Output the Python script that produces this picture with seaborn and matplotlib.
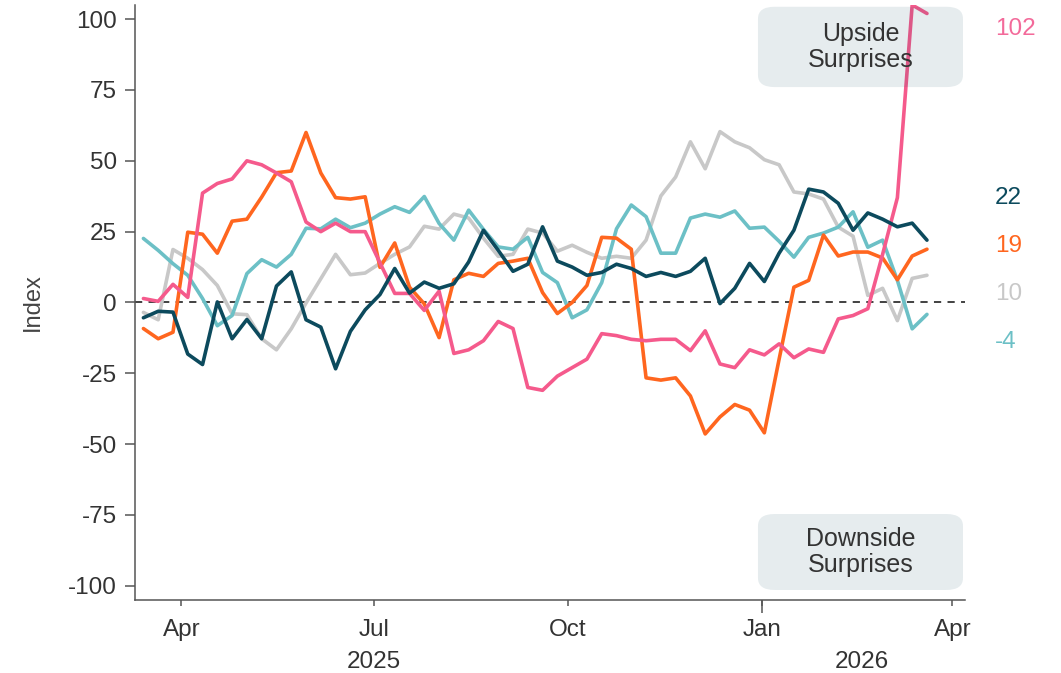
import numpy as np
import pandas as pd
import matplotlib
matplotlib.use("Agg")
import matplotlib.pyplot as plt
import matplotlib.dates as mdates
import matplotlib.transforms as mtransforms
from matplotlib.patches import FancyBboxPatch
import seaborn as sns

# ---------------- data ----------------
start_date = "2025-03-14"   # weekly observations

gray_vals = [-3.5, -6.1, 18.7, 15.6, 11.6, 6, -4, -4.3, -12.8, -16.7, -9.3, -0.2, 8.4, 17,
             9.8, 10.4, 13.8, 17, 19.6, 26.9, 25.9, 31.2, 29.8, 22.7, 16.3, 17, 25.9, 24.5,
             18.1, 20.2, 17.7, 15.6, 16.3, 15.6, 22, 37.6, 44.3, 56.7, 47.2, 60.3, 56.7, 54.6,
             50.4, 48.6, 39, 38.3, 36.5, 26.6, 23.4, 2.5, 5, -6.4, 8.5, 9.6]
teal_vals = [22.6, 18.4, 13.7, 9.6, 1.4, -8.2, -4.6, 10.2, 15.1, 12.5, 17, 26.2, 26, 29.4,
             26.4, 28, 31.2, 33.8, 31.8, 37.4, 27.9, 22, 32.6, 25.8, 19.6, 18.8, 23, 10.6,
             7, -5.4, -2.6, 7, 26, 34.4, 30.3, 17.4, 17.4, 29.8, 31.2, 30.1, 32.3, 26.2,
             26.6, 21.6, 16, 23, 24.5, 26.6, 32, 19.5, 22, 7.8, -9.3, -4.2]
orange_vals = [-9.2, -12.8, -10.5, 24.8, 24.1, 17.4, 28.7, 29.4, 37.2, 45.8, 46.4, 60, 45.7,
               37, 36.5, 37.3, 12.4, 21, 5.4, -0.5, -12.4, 8, 10.3, 9.2, 13.8, 14.6, 15.6,
               3.5, -3.9, 0, 6, 23, 22.7, 18.8, -26.6, -27.4, -26.6, -33, -46.4, -40.4, -36,
               -38, -46, -20, 5.4, 7.8, 23.8, 16.4, 17.8, 17.8, 15.7, 8, 16.4, 18.8]
pink_vals = [1.4, 0.4, 6.4, 1.8, 38.6, 42, 43.6, 50, 48.6, 45.7, 42.6, 28.4, 25, 28, 25, 25,
             14, 3.2, 3.2, -2.8, 4, -18, -16.7, -13.5, -6.7, -9.2, -30, -31, -26, -23, -20,
             -11, -11.7, -13, -13.5, -13, -13, -17, -10, -21.7, -23, -16.7, -18.5, -14.6,
             -19.5, -16.4, -17.6, -5.8, -4.6, -2.2, 17, 37, 105, 102]
navy_vals = [-5.4, -3.1, -3.4, -18.2, -21.9, 0.2, -12.8, -6, -12.8, 5.8, 10.8, -6.1, -8.7,
             -23.4, -10.2, -2.6, 2.8, 12, 3.3, 7.2, 5, 6.6, 14.3, 25.5, 18.4, 11, 13.5, 26.7,
             14.6, 12.5, 9.6, 10.6, 13.5, 12, 9.2, 10.6, 9.2, 11, 15.6, -0.4, 5, 13.8, 7.4,
             17.4, 25.5, 40, 39, 35, 25.5, 31.6, 29.4, 26.7, 28, 22]

series_names = ["gray", "teal", "orange", "pink", "navy"]
series_colors = ["#C8C8C8", "#6CC0C6", "#FF661F", "#F55A8C", "#0C4A5D"]
label_colors = ["#C8C8C8", "#6CC0C6", "#FF661F", "#F36A9A", "#0C4A5D"]
y_ticks = [-100, -75, -50, -25, 0, 25, 50, 75, 100]
month_labels = ["Apr", "Jul", "Oct", "Jan", "Apr"]
year_labels = ["2025", "2026"]
upside_text = "Upside\nSurprises"
downside_text = "Downside\nSurprises"
y_label = "Index"

# ---------------- build frame ----------------
values = [gray_vals, teal_vals, orange_vals, pink_vals, navy_vals]
dates = pd.date_range(start_date, periods=len(gray_vals), freq="7D")
df = pd.concat([pd.DataFrame({"date": dates, "value": v, "series": n})
                for n, v in zip(series_names, values)], ignore_index=True)

sns.set_theme(style="white")
plt.rcParams["font.family"] = ["Liberation Sans", "DejaVu Sans"]

FS = 17.5
fig = plt.figure(figsize=(10.61, 6.73), dpi=100)
ax = fig.add_axes([0.1272, 0.1085, 0.7823, 0.8841])

for z, (name, col) in enumerate(zip(series_names, series_colors)):
    sns.lineplot(data=df[df.series == name], x="date", y="value", color=col,
                 linewidth=2.6, ax=ax, zorder=3 + z, legend=False)

ax.axhline(0, color="#333333", linewidth=1.3, linestyle=(0, (4, 3.5)), zorder=2)

ax.set_xlim(pd.Timestamp("2025-03-10"), pd.Timestamp("2026-04-07"))
ax.set_ylim(-105, 105)
ax.set_yticks(y_ticks)
ax.set_yticklabels([str(t) for t in y_ticks])
ax.set_ylabel(y_label, fontsize=17, color="#444444")
ax.yaxis.set_label_coords(-0.110, 0.5)
ax.set_xlabel("")

# x ticks: quarter months labelled, Jan gets a longer tick
qdates = [pd.Timestamp(d) for d in ["2025-04-01", "2025-07-01", "2025-10-01",
                                     "2026-01-01", "2026-04-01"]]
ax.set_xticks(qdates)
ax.set_xticklabels(month_labels)
ax.xaxis.set_minor_locator(mdates.MonthLocator(bymonth=1))
ax.xaxis.remove_overlapping_locs = False
ax.tick_params(axis="x", which="major", length=4, width=1.1, color="#555555",
               labelsize=FS, labelcolor="#333333", pad=10, direction="out", bottom=True)
ax.tick_params(axis="x", which="minor", length=9, width=1.1, color="#555555",
               direction="out", bottom=True)
ax.tick_params(axis="y", length=7, width=1.1, color="#555555", labelsize=FS,
               labelcolor="#333333", pad=6, direction="out", left=True)

for s in ["top", "right"]:
    ax.spines[s].set_visible(False)
for s in ["left", "bottom"]:
    ax.spines[s].set_color("#555555")
    ax.spines[s].set_linewidth(1.1)

# year labels
trans_xa = mtransforms.blended_transform_factory(ax.transData, ax.transAxes)
ax.text(pd.Timestamp("2025-07-01"), -0.104, year_labels[0], transform=trans_xa,
        ha="center", va="center", fontsize=FS, color="#333333")
ax.text(pd.Timestamp("2026-02-17"), -0.104, year_labels[1], transform=trans_xa,
        ha="center", va="center", fontsize=FS, color="#333333")

# boxes
box_kw = dict(boxstyle="round,pad=0,rounding_size=0.02", transform=ax.transAxes,
              facecolor="#0C4A5D", alpha=0.1, edgecolor="none", zorder=20, clip_on=False)
ax.add_patch(FancyBboxPatch((0.7506, 0.862), 0.247, 0.135, **box_kw))
ax.add_patch(FancyBboxPatch((0.7506, 0.0168), 0.247, 0.1277, **box_kw))
ax.text(0.874, 0.929, upside_text, transform=ax.transAxes, ha="center", va="center",
        fontsize=18, color="#333333", zorder=21, linespacing=1.12)
ax.text(0.874, 0.0806, downside_text, transform=ax.transAxes, ha="center", va="center",
        fontsize=18, color="#333333", zorder=21, linespacing=1.12)

# end labels with de-overlap (keeps cluster mean)
last = [v[-1] for v in values]
gap = 17.0
order = sorted(range(len(last)), key=lambda i: -last[i])
clusters = [[i] for i in order]

def positions(cl):
    c = np.mean([last[i] for i in cl])
    n = len(cl)
    return [c + gap * ((n - 1) / 2 - k) for k in range(n)]

merged = True
while merged:
    merged = False
    for k in range(len(clusters) - 1):
        if positions(clusters[k])[-1] - positions(clusters[k + 1])[0] < gap:
            clusters[k] = clusters[k] + clusters[k + 1]
            del clusters[k + 1]
            merged = True
            break
label_pos = {}
for cl in clusters:
    for i, p in zip(cl, positions(cl)):
        label_pos[i] = min(p, 96.5)

trans_ad = mtransforms.blended_transform_factory(ax.transAxes, ax.transData)
for i, v in enumerate(last):
    ax.text(1.036, label_pos[i], f"{round(v):d}", transform=trans_ad, ha="left",
            va="center", fontsize=FS, color=label_colors[i], clip_on=False)

fig.savefig("out.png", dpi=100)
